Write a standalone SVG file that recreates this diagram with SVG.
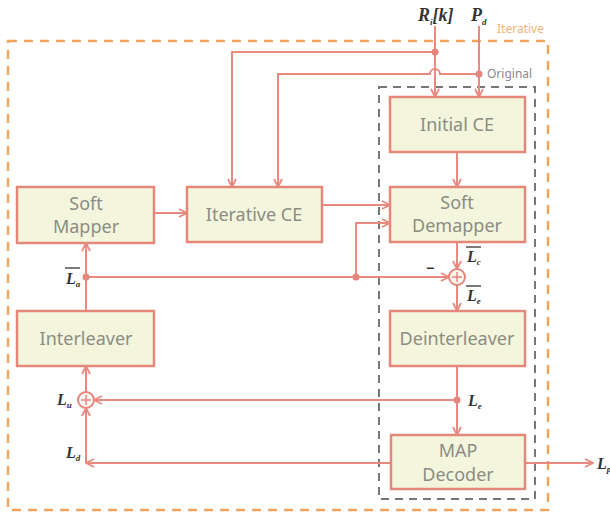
<svg xmlns="http://www.w3.org/2000/svg" width="610" height="516" viewBox="0 0 610 516">
  <style>
    .box { fill: #f3f6dc; stroke: #e6877c; stroke-width: 2.5; }
    .lbl { font-family: "Noto Sans", "Open Sans", sans-serif; font-size: 18px; fill: #8c8c84; text-anchor: middle; }
    .wire { fill: none; stroke: #e88a80; stroke-width: 2; }
    .arr { marker-end: url(#arrow); }
    .dot { fill: #e6857b; }
    .math { font-family: "Liberation Serif", "DejaVu Serif", serif; font-style: italic; font-weight: bold; fill: #333; }
    .sub { font-size: 9px; }
    .bar { stroke: #333; stroke-width: 1.3; }
    .sum { fill: #fbf6f0; stroke: #e6857b; stroke-width: 2; }
  </style>
  <defs>
    <marker id="arrow" viewBox="0 0 10 10" refX="9" refY="5" markerWidth="10" markerHeight="10" markerUnits="userSpaceOnUse" orient="auto">
      <path d="M1,1 L9,5 L1,9" fill="none" stroke="#e88a80" stroke-width="1.8"/>
    </marker>
  </defs>
  <rect width="610" height="516" fill="#ffffff"/>

  <!-- scope frames -->
  <g id="iterative-frame">
    <rect x="8" y="41" width="540" height="469" fill="none" stroke="#f0a45c" stroke-width="2.5" stroke-dasharray="9 7"/>
    <text x="497" y="33" font-family="Noto Sans, sans-serif" font-size="12" fill="#f2b27a">Iterative</text>
  </g>
  <g id="original-frame">
    <rect x="379" y="87" width="156" height="412" fill="none" stroke="#777" stroke-width="2" stroke-dasharray="8 6"/>
    <text x="487" y="78" font-family="Noto Sans, sans-serif" font-size="12" fill="#888">Original</text>
  </g>

  <!-- connectors -->
  <g id="connectors">
    <!-- inputs -->
    <path class="wire arr" d="M435,26 V97"/>
    <path class="wire arr" d="M479,26 V97"/>
    <path class="wire arr" d="M435,52 H232 V187"/>
    <path class="wire arr" d="M479,74 H440 A5,5 0 0 0 430,74 H278 V187"/>
    <circle class="dot" cx="435" cy="52" r="3.5"/>
    <circle class="dot" cx="479" cy="74" r="3.5"/>
    <!-- Initial CE to Soft Demapper -->
    <path class="wire arr" d="M457,152 V187"/>
    <!-- Soft Mapper to Iterative CE -->
    <path class="wire arr" d="M154,213 H187"/>
    <!-- Iterative CE to Soft Demapper -->
    <path class="wire arr" d="M322,205 H390"/>
    <path class="wire arr" d="M356,277 V223 H390"/>
    <!-- a-priori feedback line -->
    <path class="wire arr" d="M86,277 H449"/>
    <circle class="dot" cx="86" cy="277" r="3.5"/>
    <circle class="dot" cx="356" cy="277" r="3.5"/>
    <!-- Soft Demapper to sum to Deinterleaver -->
    <path class="wire arr" d="M457,242 V269"/>
    <path class="wire arr" d="M457,285 V311"/>
    <!-- Deinterleaver to MAP Decoder -->
    <path class="wire arr" d="M457,366 V435"/>
    <circle class="dot" cx="457" cy="400" r="3.5"/>
    <path class="wire arr" d="M457,400 H94"/>
    <!-- MAP Decoder output -->
    <path class="wire arr" d="M525,463 H593"/>
    <path class="wire arr" d="M391,463 H86"/>
    <path class="wire arr" d="M86,463 V408"/>
    <!-- sum to Interleaver to Soft Mapper -->
    <path class="wire arr" d="M86,392 V366"/>
    <path class="wire arr" d="M86,311 V243"/>
  </g>

  <!-- summation nodes -->
  <g id="sum-demap">
    <circle class="sum" cx="457" cy="277" r="8"/>
    <path d="M452,277 H462 M457,272 V282" stroke="#e6857b" stroke-width="1.5"/>
    <text x="426" y="273" font-family="Liberation Sans, sans-serif" font-size="14" font-weight="bold" fill="#333">−</text>
  </g>
  <g id="sum-feedback">
    <circle class="sum" cx="86" cy="400" r="8"/>
    <path d="M81,400 H91 M86,395 V405" stroke="#e6857b" stroke-width="1.5"/>
  </g>

  <!-- processing blocks -->
  <g id="soft-mapper">
    <rect class="box" x="17" y="187" width="137" height="56"/>
    <text class="lbl" x="86" y="210">Soft</text>
    <text class="lbl" x="86" y="233">Mapper</text>
  </g>
  <g id="iterative-ce">
    <rect class="box" x="187" y="187" width="135" height="55"/>
    <text class="lbl" x="254" y="221">Iterative CE</text>
  </g>
  <g id="initial-ce">
    <rect class="box" x="390" y="97" width="135" height="55"/>
    <text class="lbl" x="457" y="131">Initial CE</text>
  </g>
  <g id="soft-demapper">
    <rect class="box" x="390" y="187" width="135" height="55"/>
    <text class="lbl" x="457" y="209">Soft</text>
    <text class="lbl" x="457" y="232">Demapper</text>
  </g>
  <g id="interleaver">
    <rect class="box" x="17" y="311" width="137" height="55"/>
    <text class="lbl" x="86" y="345">Interleaver</text>
  </g>
  <g id="deinterleaver">
    <rect class="box" x="390" y="311" width="135" height="55"/>
    <text class="lbl" x="457" y="345">Deinterleaver</text>
  </g>
  <g id="map-decoder">
    <rect class="box" x="391" y="435" width="134" height="54"/>
    <text class="lbl" x="458" y="457">MAP</text>
    <text class="lbl" x="458" y="481">Decoder</text>
  </g>

  <!-- signal labels -->
  <g id="labels">
    <text class="math" x="418" y="21" font-size="18">R<tspan class="sub" dy="4">i</tspan><tspan dy="-4">[k]</tspan></text>
    <text class="math" x="471" y="21" font-size="18">P<tspan class="sub" dy="4">d</tspan></text>
    <text class="math" x="66" y="284" font-size="16">L<tspan class="sub" dy="3">a</tspan></text>
    <line class="bar" x1="65" y1="268" x2="80" y2="268"/>
    <text class="math" x="467" y="262" font-size="16">L<tspan class="sub" dy="3">c</tspan></text>
    <line class="bar" x1="466" y1="247" x2="481" y2="247"/>
    <text class="math" x="467" y="301" font-size="16">L<tspan class="sub" dy="3">e</tspan></text>
    <line class="bar" x1="466" y1="286" x2="481" y2="286"/>
    <text class="math" x="468" y="406" font-size="16">L<tspan class="sub" dy="3">e</tspan></text>
    <text class="math" x="57" y="405" font-size="16">L<tspan class="sub" dy="3">u</tspan></text>
    <text class="math" x="66" y="458" font-size="16">L<tspan class="sub" dy="3">d</tspan></text>
    <text class="math" x="597" y="469" font-size="16">L<tspan class="sub" dy="3">p</tspan></text>
  </g>
</svg>
